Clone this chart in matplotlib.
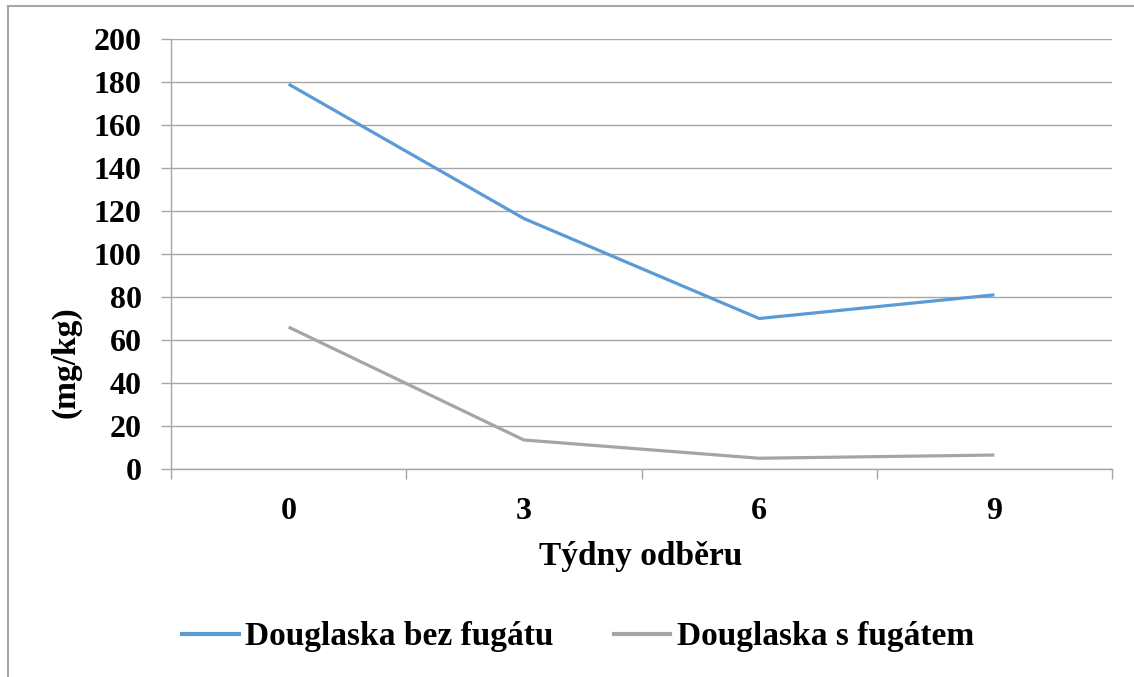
import matplotlib.pyplot as plt
from matplotlib.lines import Line2D

# Data
tydny = ['0', '3', '6', '9']
bez_fugatu = [179, 116.5, 70, 81]
s_fugatem = [66, 13.5, 5, 6.5]

plt.rcParams['font.family'] = ['Liberation Serif', 'DejaVu Serif']
plt.rcParams['font.weight'] = 'bold'

fig = plt.figure(figsize=(11.34, 6.77), dpi=100)
ax = fig.add_axes([171 / 1134, 1 - 469 / 677, (1112 - 171) / 1134, (469 - 39) / 677])

x = [i + 0.5 for i in range(len(tydny))]
ax.plot(x, bez_fugatu, color='#5B9BD5', lw=2.3, solid_capstyle='butt', zorder=3)
ax.plot(x, s_fugatem, color='#A5A5A5', lw=2.3, solid_capstyle='butt', zorder=3)

ax.set_xlim(0, len(tydny))
ax.set_ylim(0, 200)
ax.set_yticks(range(0, 201, 20))
ax.set_xticks(range(len(tydny) + 1))
ax.set_xticklabels([])
ax.set_xticks(x, minor=True)
ax.set_xticklabels(tydny, minor=True)

ax.grid(axis='y', color='#A6A6A6', lw=1)
ax.set_axisbelow(True)
for s in ['top', 'right']:
    ax.spines[s].set_visible(False)
for s in ['left', 'bottom']:
    ax.spines[s].set_color('#A6A6A6')
    ax.spines[s].set_linewidth(1)

ax.tick_params(axis='y', which='major', length=7, width=1, color='#A6A6A6',
               labelsize=23, pad=14)
ax.tick_params(axis='x', which='major', length=7, width=1, color='#A6A6A6')
ax.tick_params(axis='x', which='minor', length=0, labelsize=23, pad=20)

fig.text(66 / 1134, 1 - 362 / 677, '(mg/kg)', rotation=90, fontsize=24,
         fontweight='bold', ha='center', va='center')
fig.text(641 / 1134, 1 - 556 / 677, 'Týdny odběru', fontsize=24,
         fontweight='bold', ha='center', va='center')

handles = [Line2D([], [], color='#5B9BD5', lw=3),
           Line2D([], [], color='#A5A5A5', lw=3)]
fig.legend(handles, ['Douglaska bez fugátu', 'Douglaska s fugátem'],
           loc='center', bbox_to_anchor=(578 / 1134, 1 - 637 / 677), ncol=2,
           frameon=False, fontsize=24, handlelength=1.7, handletextpad=0.2,
           columnspacing=1.8)

# chart frame (left and top edges)
fig.add_artist(Line2D([8 / 1134, 8 / 1134], [0, 1 - 6 / 677], color='#A6A6A6', lw=1.5))
fig.add_artist(Line2D([8 / 1134, 1], [1 - 6 / 677, 1 - 6 / 677], color='#A6A6A6', lw=1.5))

plt.savefig('out.png', dpi=100)
